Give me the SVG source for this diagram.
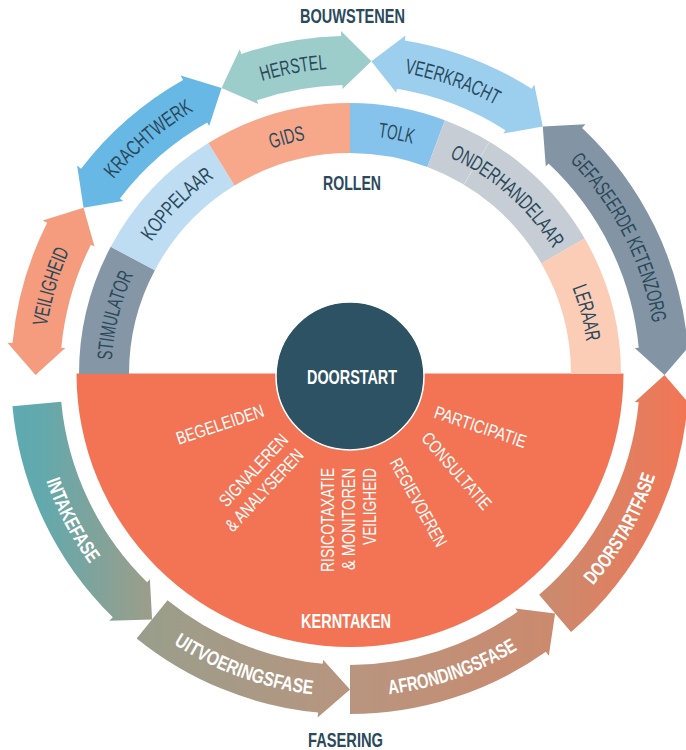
<svg xmlns="http://www.w3.org/2000/svg" xmlns:xlink="http://www.w3.org/1999/xlink" width="686" height="750" viewBox="0 0 686 750">
<style>
.t{font-family:"Liberation Sans",Arial,Helvetica,sans-serif}
.dk{fill:#2A4A5C;font-size:21px}
.hd{fill:#2A4A5C;font-size:20px;font-weight:bold}
.wb{fill:#fff;font-size:20px;font-weight:bold}
.wn{fill:#fff;font-size:18px}
.fas{fill:url(#gFas)}
</style>
<defs>
<path id="pRing" d="M 111.5 374 A 238.5 238.5 0 0 1 588.5 374"/>
<path id="pTop" d="M 43 374 A 307 307 0 0 1 657 374"/>
<path id="pBot" d="M 28.3 374 A 321.7 321.7 0 0 0 671.7 374"/>
<linearGradient id="gFas" gradientUnits="userSpaceOnUse" x1="0" y1="0" x2="686" y2="0">
<stop offset="0" stop-color="#5BABB2"/>
<stop offset="0.06" stop-color="#62A9AD"/>
<stop offset="0.21" stop-color="#999E8B"/>
<stop offset="0.51" stop-color="#B8957F"/>
<stop offset="0.80" stop-color="#CB8A6E"/>
<stop offset="1" stop-color="#F27655"/>
</linearGradient>
</defs>

<!-- titles -->
<text class="t hd" x="352.5" y="23" text-anchor="middle" textLength="105" lengthAdjust="spacingAndGlyphs">BOUWSTENEN</text>
<text class="t hd" x="345.5" y="746.5" text-anchor="middle" textLength="75" lengthAdjust="spacingAndGlyphs">FASERING</text>

<!-- Kerntaken -->
<g id="kerntaken">
<path d="M 76.5 373.5 A 273.5 273.5 0 0 0 623.5 373.5 Z" fill="#F27454"/>
<text class="t wb" x="346" y="628" text-anchor="middle" textLength="90" lengthAdjust="spacingAndGlyphs">KERNTAKEN</text>
<text class="t wn" transform="translate(222 430.3) rotate(-18.5)" text-anchor="middle" textLength="91" lengthAdjust="spacingAndGlyphs">BEGELEIDEN</text>
<text class="t wn" transform="translate(258 474.4) rotate(-47)" text-anchor="middle" textLength="92" lengthAdjust="spacingAndGlyphs">SIGNALEREN</text>
<text class="t wn" transform="translate(268.9 494.4) rotate(-47)" text-anchor="middle" textLength="105" lengthAdjust="spacingAndGlyphs">&amp; ANALYSEREN</text>
<text class="t wn" transform="translate(334 468) rotate(-90)" text-anchor="end" textLength="104" lengthAdjust="spacingAndGlyphs">RISICOTAXATIE</text>
<text class="t wn" transform="translate(355 468) rotate(-90)" text-anchor="end" textLength="102" lengthAdjust="spacingAndGlyphs">&amp; MONITOREN</text>
<text class="t wn" transform="translate(376 468) rotate(-90)" text-anchor="end" textLength="77" lengthAdjust="spacingAndGlyphs">VEILIGHEID</text>
<text class="t wn" transform="translate(413.1 505.4) rotate(61)" text-anchor="middle" textLength="98" lengthAdjust="spacingAndGlyphs">REGIEVOEREN</text>
<text class="t wn" transform="translate(451.9 475) rotate(49)" text-anchor="middle" textLength="96" lengthAdjust="spacingAndGlyphs">CONSULTATIE</text>
<text class="t wn" transform="translate(478.5 432.8) rotate(18.5)" text-anchor="middle" textLength="96" lengthAdjust="spacingAndGlyphs">PARTICIPATIE</text>
</g>

<!-- Rollen ring -->
<g id="rollen">
<g id="stimulator">
<path d="M 79 374 A 271 271 0 0 1 110.72 246.77 L 154.87 270.25 A 221 221 0 0 0 129 374 Z" fill="#8596A6"/>
<text class="t dk"><textPath href="#pRing" xlink:href="#pRing" startOffset="7.78%" text-anchor="middle" textLength="89" lengthAdjust="spacingAndGlyphs">STIMULATOR</textPath></text>
</g>
<g id="koppelaar">
<path d="M 110.72 246.77 A 271 271 0 0 1 208.40 142.93 L 234.53 185.57 A 221 221 0 0 0 154.87 270.25 Z" fill="#BEDCF2"/>
<text class="t dk"><textPath href="#pRing" xlink:href="#pRing" startOffset="24.72%" text-anchor="middle" textLength="90" lengthAdjust="spacingAndGlyphs">KOPPELAAR</textPath></text>
</g>
<g id="gids">
<path d="M 208.40 142.93 A 271 271 0 0 1 350 103 L 350 153 A 221 221 0 0 0 234.53 185.57 Z" fill="#F7A88B"/>
<text class="t dk"><textPath href="#pRing" xlink:href="#pRing" startOffset="41.67%" text-anchor="middle" textLength="35" lengthAdjust="spacingAndGlyphs">GIDS</textPath></text>
</g>
<g id="tolk">
<path d="M 350 103 A 271 271 0 0 1 444.91 120.16 L 427.40 167 A 221 221 0 0 0 350 153 Z" fill="#85C3EC"/>
<text class="t dk"><textPath href="#pRing" xlink:href="#pRing" startOffset="56.11%" text-anchor="middle" textLength="35" lengthAdjust="spacingAndGlyphs">TOLK</textPath></text>
</g>
<g id="onderhandelaar">
<path d="M 444.91 120.16 A 271 271 0 0 1 584.69 238.5 L 541.39 263.5 A 221 221 0 0 0 427.40 167 Z" fill="#C7CDD5"/>
<line x1="489.58" y1="141.71" x2="463.82" y2="184.57" stroke="#fff" stroke-opacity="0.35" stroke-width="1"/>
<text class="t dk"><textPath href="#pRing" xlink:href="#pRing" startOffset="73.06%" text-anchor="middle" textLength="140" lengthAdjust="spacingAndGlyphs">ONDERHANDELAAR</textPath></text>
</g>
<g id="leraar">
<path d="M 584.69 238.5 A 271 271 0 0 1 621 374 L 571 374 A 221 221 0 0 0 541.39 263.5 Z" fill="#FBCCB6"/>
<text class="t dk"><textPath href="#pRing" xlink:href="#pRing" startOffset="91.94%" text-anchor="middle" textLength="56" lengthAdjust="spacingAndGlyphs">LERAAR</textPath></text>
</g>
<text class="t hd" x="352" y="190" text-anchor="middle" textLength="58" lengthAdjust="spacingAndGlyphs">ROLLEN</text>
</g>

<!-- Doorstart -->
<g id="doorstart">
<circle cx="350" cy="376" r="74" fill="#2C5264" stroke="#fff" stroke-width="1.5"/>
<text class="t wb" x="352" y="383.5" text-anchor="middle" textLength="90" lengthAdjust="spacingAndGlyphs">DOORSTART</text>
</g>

<!-- Bouwstenen -->
<g id="bouwstenen" transform="translate(0 1)">
<g id="veiligheid">
<path d="M 35.5 374 L 7.53 341.63 L 12.51 342.10 A 339 339 0 0 1 47.15 221.68 L 42.68 219.43 L 83.53 206.87 L 94.50 245.49 L 90.92 243.70 A 290 290 0 0 0 61.29 346.71 L 65.27 347.08 Z" fill="#F59B7E"/>
<text class="t dk"><textPath href="#pTop" xlink:href="#pTop" startOffset="9.17%" text-anchor="middle" textLength="79" lengthAdjust="spacingAndGlyphs">VEILIGHEID</textPath></text>
</g>
<g id="krachtwerk">
<path d="M 83.53 206.87 L 77.09 164.59 L 81.05 167.63 A 339 339 0 0 1 183.07 78.95 L 180.61 74.60 L 221.58 86.92 L 209.17 125.08 L 207.20 121.60 A 290 290 0 0 0 119.93 197.46 L 123.10 199.89 Z" fill="#68B8E6"/>
<text class="t dk"><textPath href="#pTop" xlink:href="#pTop" startOffset="27.5%" text-anchor="middle" textLength="106" lengthAdjust="spacingAndGlyphs">KRACHTWERK</textPath></text>
</g>
<g id="herstel">
<path d="M 221.58 86.92 L 239.71 48.16 L 241.31 52.90 A 339 339 0 0 1 341.13 35.12 L 340.99 30.12 L 371.39 60.23 L 342.51 88.10 L 342.41 84.10 A 290 290 0 0 0 257.02 99.31 L 258.31 103.10 Z" fill="#9DCDCB"/>
<text class="t dk"><textPath href="#pTop" xlink:href="#pTop" startOffset="44.17%" text-anchor="middle" textLength="66" lengthAdjust="spacingAndGlyphs">HERSTEL</textPath></text>
</g>
<g id="veerkracht">
<path d="M 371.39 60.23 L 405.59 34.52 L 404.78 39.45 A 339 339 0 0 1 531.65 87.77 L 534.33 83.55 L 542.76 125.49 L 503.25 132.52 L 505.39 129.14 A 290 290 0 0 0 396.86 87.81 L 396.22 91.76 Z" fill="#9CCEEE"/>
<text class="t dk"><textPath href="#pTop" xlink:href="#pTop" startOffset="60.72%" text-anchor="middle" textLength="97" lengthAdjust="spacingAndGlyphs">VEERKRACHT</textPath></text>
</g>
<g id="gefaseerde-ketenzorg">
<path d="M 542.76 125.49 L 585.49 123.23 L 582.06 126.88 A 339 339 0 0 1 687.49 342.10 L 692.47 341.63 L 664.5 374 L 634.73 347.08 L 638.71 346.71 A 290 290 0 0 0 548.52 162.60 L 545.78 165.51 Z" fill="#8395A5"/>
<text class="t dk"><textPath href="#pTop" xlink:href="#pTop" startOffset="85%" text-anchor="middle" textLength="185" lengthAdjust="spacingAndGlyphs">GEFASEERDE KETENZORG</textPath></text>
</g>
</g>

<!-- Fasering -->
<g id="fasering" transform="translate(0 1)">
<g id="intakefase">
<path class="fas" d="M 12.45 405.31 A 339 339 0 0 0 112.82 616.21 L 109.32 619.78 L 152.08 618.41 L 149.90 578.34 L 147.10 581.20 A 290 290 0 0 1 61.24 400.79 Z"/>
<text class="t wb"><textPath href="#pBot" xlink:href="#pBot" startOffset="15.33%" text-anchor="middle" textLength="94" lengthAdjust="spacingAndGlyphs">INTAKEFASE</textPath></text>
</g>
<g id="uitvoeringsfase">
<path class="fas" d="M 136.66 637.45 A 339 339 0 0 0 318.10 711.49 L 317.63 716.47 L 350 688.5 L 323.08 658.73 L 322.71 662.71 A 290 290 0 0 1 167.50 599.37 Z"/>
<text class="t wb"><textPath href="#pBot" xlink:href="#pBot" startOffset="38.89%" text-anchor="middle" textLength="149" lengthAdjust="spacingAndGlyphs">UITVOERINGSFASE</textPath></text>
</g>
<g id="afrondingsfase">
<path class="fas" d="M 350 713 A 339 339 0 0 0 545.89 650.67 L 548.78 654.75 L 555.09 612.43 L 515.27 607.42 L 517.58 610.68 A 290 290 0 0 1 350 664 Z"/>
<text class="t wb"><textPath href="#pBot" xlink:href="#pBot" startOffset="60.67%" text-anchor="middle" textLength="137" lengthAdjust="spacingAndGlyphs">AFRONDINGSFASE</textPath></text>
</g>
<g id="doorstartfase">
<path class="fas" d="M 571.06 631.01 A 339 339 0 0 0 687.49 405.90 L 692.47 406.37 L 664.5 374 L 634.73 400.92 L 638.71 401.29 A 290 290 0 0 1 539.11 593.86 Z"/>
<text class="t wb"><textPath href="#pBot" xlink:href="#pBot" startOffset="83.56%" text-anchor="middle" textLength="127" lengthAdjust="spacingAndGlyphs">DOORSTARTFASE</textPath></text>
</g>
</g>

<g id="connectors"/>
</svg>
